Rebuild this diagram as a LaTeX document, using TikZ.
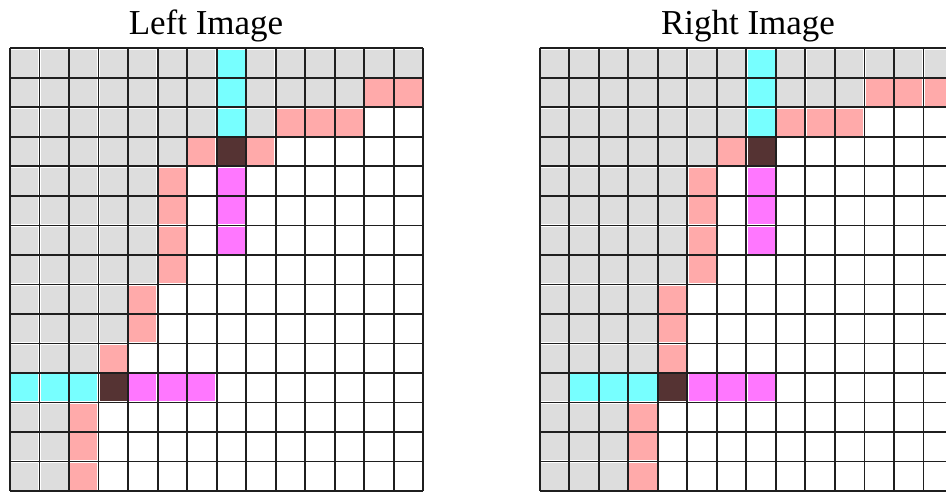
\documentclass[tikz,border=0pt]{standalone}
\usepackage{fontspec}
\setmainfont{Liberation Serif}
\usepackage{tikz}

\definecolor{cellg}{HTML}{DDDDDD}
\definecolor{cellc}{HTML}{77FFFF}
\definecolor{cellp}{HTML}{FFAAAA}
\definecolor{cellm}{HTML}{FF77FF}
\definecolor{celld}{HTML}{553333}
\definecolor{cellw}{HTML}{FFFFFF}

\begin{document}
\begin{tikzpicture}[
    x=1pt, y=-1pt,
    title/.style={anchor=base, inner sep=0pt, font=\fontsize{35}{40}\selectfont},
    gridline/.style={line width=1.8pt, draw=black!88},
    cellfill/.style={fill=cell#1}
  ]
    \useasboundingbox (0,0) rectangle (946,491);
    \clip (0,0) rectangle (946,491);

    \node[title] (lefttitle) at (206,34) {Left Image};
    \node[title] (righttitle) at (748,34) {Right Image};

    % left grid
    \begin{scope}[shift={(10,48.3)}, x=29.52pt, y=-29.52pt]
      \foreach \cells [count=\r from 0] in {
          {g,g,g,g,g,g,g,c,g,g,g,g,g,g},
          {g,g,g,g,g,g,g,c,g,g,g,g,p,p},
          {g,g,g,g,g,g,g,c,g,p,p,p,w,w},
          {g,g,g,g,g,g,p,d,p,w,w,w,w,w},
          {g,g,g,g,g,p,w,m,w,w,w,w,w,w},
          {g,g,g,g,g,p,w,m,w,w,w,w,w,w},
          {g,g,g,g,g,p,w,m,w,w,w,w,w,w},
          {g,g,g,g,g,p,w,w,w,w,w,w,w,w},
          {g,g,g,g,p,w,w,w,w,w,w,w,w,w},
          {g,g,g,g,p,w,w,w,w,w,w,w,w,w},
          {g,g,g,p,w,w,w,w,w,w,w,w,w,w},
          {c,c,c,d,m,m,m,w,w,w,w,w,w,w},
          {g,g,p,w,w,w,w,w,w,w,w,w,w,w},
          {g,g,p,w,w,w,w,w,w,w,w,w,w,w},
          {g,g,p,w,w,w,w,w,w,w,w,w,w,w}}
        \foreach \c [count=\col from 0] in \cells
          \fill[cellfill=\c] ([shift={(1.2pt,-1.2pt)}]\col,\r) rectangle ([shift={(-1.2pt,1.2pt)}]\col+1,\r+1);
      \foreach \i in {0,...,14}
        \draw[gridline] (\i,0) -- (\i,15);
      \foreach \j in {0,...,15}
        \draw[gridline] (0,\j) -- (14,\j);
    \end{scope}

    % right grid
    \begin{scope}[shift={(539.7,48.3)}, x=29.52pt, y=-29.52pt]
      \foreach \cells [count=\r from 0] in {
          {g,g,g,g,g,g,g,c,g,g,g,g,g,g},
          {g,g,g,g,g,g,g,c,g,g,g,p,p,p},
          {g,g,g,g,g,g,g,c,p,p,p,w,w,w},
          {g,g,g,g,g,g,p,d,w,w,w,w,w,w},
          {g,g,g,g,g,p,w,m,w,w,w,w,w,w},
          {g,g,g,g,g,p,w,m,w,w,w,w,w,w},
          {g,g,g,g,g,p,w,m,w,w,w,w,w,w},
          {g,g,g,g,g,p,w,w,w,w,w,w,w,w},
          {g,g,g,g,p,w,w,w,w,w,w,w,w,w},
          {g,g,g,g,p,w,w,w,w,w,w,w,w,w},
          {g,g,g,g,p,w,w,w,w,w,w,w,w,w},
          {g,c,c,c,d,m,m,m,w,w,w,w,w,w},
          {g,g,g,p,w,w,w,w,w,w,w,w,w,w},
          {g,g,g,p,w,w,w,w,w,w,w,w,w,w},
          {g,g,g,p,w,w,w,w,w,w,w,w,w,w}}
        \foreach \c [count=\col from 0] in \cells
          \fill[cellfill=\c] ([shift={(1.2pt,-1.2pt)}]\col,\r) rectangle ([shift={(-1.2pt,1.2pt)}]\col+1,\r+1);
      \foreach \i in {0,...,14}
        \draw[gridline] (\i,0) -- (\i,15);
      \foreach \j in {0,...,15}
        \draw[gridline] (0,\j) -- (14,\j);
    \end{scope}
  \end{tikzpicture}
\end{document}
